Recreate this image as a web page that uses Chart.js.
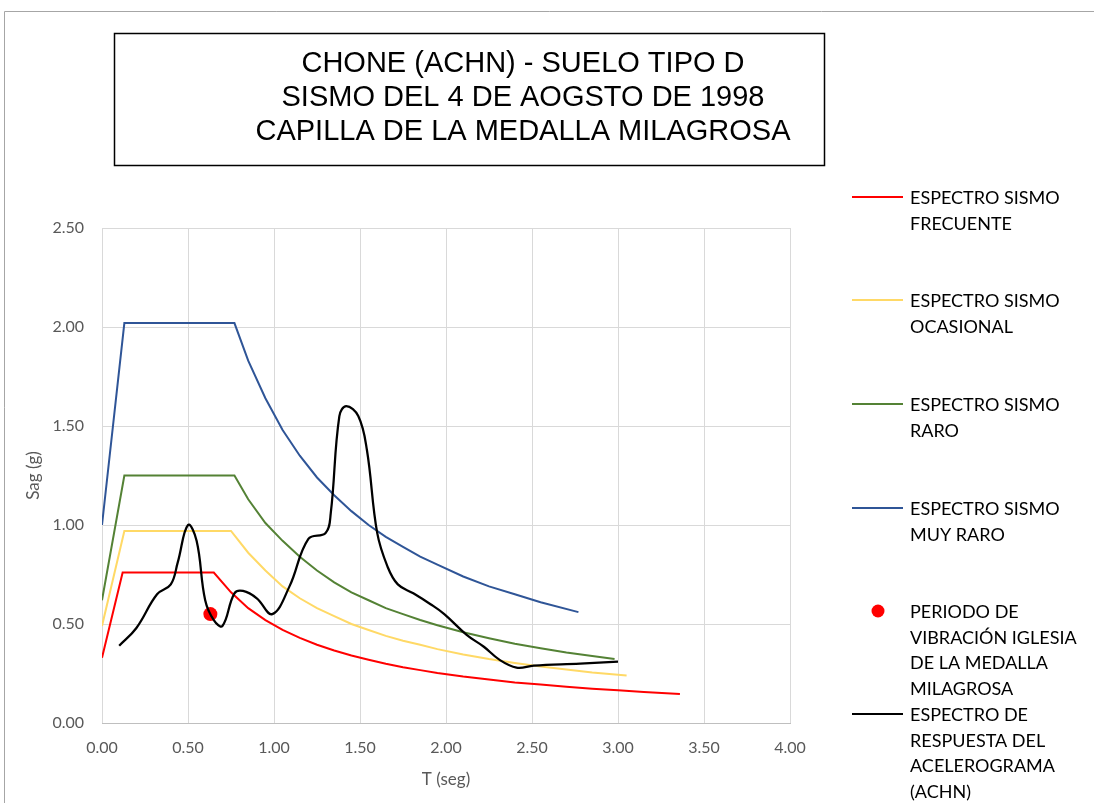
<!DOCTYPE html>
<html>
<head>
<meta charset="utf-8">
<script src="https://cdn.jsdelivr.net/npm/chart.js@4.4.1/dist/chart.umd.min.js"></script>
<style>
  html, body { margin: 0; padding: 0; background: #fff; }
  #wrap { width: 1094px; height: 803px; position: relative; }
</style>
</head>
<body>
<div id="wrap"><canvas id="espectro" width="1094" height="803"></canvas></div>
<script>
// titulo
var tituloLineas = ['CHONE (ACHN) - SUELO TIPO D', 'SISMO DEL 4 DE AOGSTO DE 1998', 'CAPILLA DE LA MEDALLA MILAGROSA'];

// ejes
var xTicks = [0, 0.5, 1, 1.5, 2, 2.5, 3, 3.5, 4];
var yTicks = [0, 0.5, 1, 1.5, 2, 2.5];

// espectro sismo frecuente
var tFrecuente = [0, 0.12, 0.65, 0.75, 0.85, 0.95, 1.05, 1.15, 1.25, 1.35, 1.45, 1.55, 1.65, 1.75, 1.85, 1.95, 2.1, 2.25, 2.4, 2.55, 2.7, 2.85, 3.0, 3.15, 3.36];
var saFrecuente = [0.33, 0.76, 0.76, 0.66, 0.58, 0.52, 0.47, 0.43, 0.395, 0.366, 0.341, 0.319, 0.299, 0.282, 0.267, 0.253, 0.235, 0.22, 0.205, 0.194, 0.183, 0.173, 0.165, 0.157, 0.147];

// espectro sismo ocasional
var tOcasional = [0, 0.13, 0.75, 0.85, 0.95, 1.05, 1.15, 1.25, 1.35, 1.45, 1.55, 1.65, 1.75, 1.85, 1.95, 2.1, 2.25, 2.4, 2.55, 2.7, 2.85, 3.05];
var saOcasional = [0.49, 0.97, 0.97, 0.86, 0.77, 0.69, 0.63, 0.58, 0.54, 0.50, 0.47, 0.44, 0.415, 0.395, 0.373, 0.346, 0.323, 0.303, 0.285, 0.27, 0.255, 0.24];

// espectro sismo raro
var tRaro = [0, 0.13, 0.77, 0.85, 0.95, 1.05, 1.15, 1.25, 1.35, 1.45, 1.55, 1.65, 1.75, 1.85, 1.95, 2.1, 2.25, 2.4, 2.55, 2.7, 2.85, 2.98];
var saRaro = [0.62, 1.25, 1.25, 1.13, 1.01, 0.92, 0.84, 0.77, 0.71, 0.66, 0.62, 0.58, 0.55, 0.52, 0.494, 0.458, 0.428, 0.40, 0.377, 0.356, 0.338, 0.323];

// espectro sismo muy raro
var tMuyRaro = [0, 0.13, 0.77, 0.85, 0.95, 1.05, 1.15, 1.25, 1.35, 1.45, 1.55, 1.65, 1.75, 1.85, 1.95, 2.1, 2.25, 2.4, 2.55, 2.77];
var saMuyRaro = [1.00, 2.02, 2.02, 1.83, 1.64, 1.48, 1.35, 1.24, 1.15, 1.07, 1.00, 0.94, 0.89, 0.84, 0.80, 0.74, 0.69, 0.65, 0.61, 0.56];

// periodo de vibracion de la iglesia
var tPeriodo = [0.63];
var saPeriodo = [0.55];

// espectro de respuesta del acelerograma (ACHN)
var tAcel = [0.10, 0.20, 0.32, 0.40, 0.44, 0.50, 0.55, 0.60, 0.65, 0.70, 0.77, 0.82, 0.90, 0.99, 1.09, 1.20, 1.30, 1.33, 1.38, 1.42, 1.49, 1.54, 1.60, 1.66, 1.72, 1.81, 1.91, 1.99, 2.12, 2.22, 2.31, 2.41, 2.51, 2.78, 3.00];
var saAcel = [0.39, 0.48, 0.65, 0.70, 0.81, 1.00, 0.92, 0.62, 0.52, 0.49, 0.655, 0.667, 0.63, 0.55, 0.69, 0.93, 0.96, 1.06, 1.55, 1.60, 1.55, 1.38, 0.96, 0.79, 0.70, 0.655, 0.60, 0.55, 0.445, 0.385, 0.32, 0.28, 0.29, 0.30, 0.31];

function puntos(xs, ys) {
    var out = [];
    for (var i = 0; i < xs.length; i++) out.push({ x: xs[i], y: ys[i] });
    return out;
}

var series = [
    { label: ['ESPECTRO SISMO', 'FRECUENTE'], t: tFrecuente, sa: saFrecuente, color: '#ff0000', tipo: 'linea', ly: 197 },
    { label: ['ESPECTRO SISMO', 'OCASIONAL'], t: tOcasional, sa: saOcasional, color: '#ffd966', tipo: 'linea', ly: 300 },
    { label: ['ESPECTRO SISMO', 'RARO'], t: tRaro, sa: saRaro, color: '#548235', tipo: 'linea', ly: 404 },
    { label: ['ESPECTRO SISMO', 'MUY RARO'], t: tMuyRaro, sa: saMuyRaro, color: '#2f5597', tipo: 'linea', ly: 508 },
    { label: ['PERIODO DE', 'VIBRACIÓN IGLESIA', 'DE LA MEDALLA', 'MILAGROSA'], t: tPeriodo, sa: saPeriodo, color: '#ff0000', tipo: 'punto', ly: 611 },
    { label: ['ESPECTRO DE', 'RESPUESTA DEL', 'ACELEROGRAMA', '(ACHN)'], t: tAcel, sa: saAcel, color: '#000000', tipo: 'suave', ly: 714 }
];

var datasets = series.map(function(s) {
    if (s.tipo === 'punto') {
        return { label: s.label.join(' '), data: puntos(s.t, s.sa), showLine: false,
            pointRadius: 7, pointBackgroundColor: s.color, pointBorderWidth: 0, order: 1 };
    }
    return { label: s.label.join(' '), data: puntos(s.t, s.sa), showLine: true,
        borderColor: s.color, borderWidth: s.tipo === 'suave' ? 2.25 : 2, pointRadius: 0,
        tension: s.tipo === 'suave' ? 0.4 : 0, fill: false, order: s.tipo === 'suave' ? 0 : 2 };
});

// marco, titulo y leyenda dibujados a mano
var decoracion = {
    id: 'decoracion',
    beforeDraw: function(chart) {
        var c = chart.ctx;
        c.save();
        c.fillStyle = '#fff';
        c.fillRect(0, 0, chart.width, chart.height);
        c.strokeStyle = '#a6a6a6';
        c.lineWidth = 1;
        c.beginPath();
        c.moveTo(4.5, chart.height);
        c.lineTo(4.5, 11.5);
        c.lineTo(chart.width, 11.5);
        c.stroke();
        c.restore();
    },
    afterDraw: function(chart) {
        var c = chart.ctx;
        c.save();
        // caja del titulo
        c.strokeStyle = '#000';
        c.lineWidth = 1.5;
        c.strokeRect(114.5, 33.5, 710, 132);
        c.fillStyle = '#000';
        c.font = '29px "Liberation Sans", Arial, sans-serif';
        c.textAlign = 'center';
        c.textBaseline = 'middle';
        tituloLineas.forEach(function(t, i) {
            c.fillText(t, 523, 64 + i * 34);
        });
        // leyenda
        c.font = '18px Lato, "Open Sans", sans-serif';
        c.textAlign = 'left';
        series.forEach(function(s) {
            if (s.tipo === 'punto') {
                c.fillStyle = s.color;
                c.beginPath();
                c.arc(878, s.ly, 6.5, 0, Math.PI * 2);
                c.fill();
            } else {
                c.strokeStyle = s.color;
                c.lineWidth = 2;
                c.beginPath();
                c.moveTo(852, s.ly);
                c.lineTo(903, s.ly);
                c.stroke();
            }
            c.fillStyle = '#000';
            s.label.forEach(function(l, i) {
                c.fillText(l, 910, s.ly + 1 + i * 25.7);
            });
        });
        c.restore();
    }
};

var ctx = document.getElementById('espectro').getContext('2d');
new Chart(ctx, {
    type: 'scatter',
    data: { datasets: datasets },
    plugins: [decoracion],
    options: {
        responsive: false,
        animation: false,
        layout: { padding: { left: 20, right: 304, top: 228, bottom: 10 } },
        plugins: { legend: { display: false }, tooltip: { enabled: false } },
        scales: {
            x: {
                type: 'linear', min: 0, max: 4,
                afterBuildTicks: function(ax) { ax.ticks = xTicks.map(function(v) { return { value: v }; }); },
                afterFit: function(ax) { ax.height = 70; },
                ticks: { color: '#595959', font: { family: 'Lato', size: 16 }, padding: 15,
                    callback: function(v) { return v.toFixed(2); } },
                grid: { color: '#d9d9d9', lineWidth: 1, drawTicks: false },
                border: { color: '#bfbfbf' },
                title: { display: true, text: 'T (seg)', color: '#595959', font: { family: 'Lato', size: 17 }, padding: { top: 8, bottom: 3 } }
            },
            y: {
                type: 'linear', min: 0, max: 2.5,
                afterBuildTicks: function(ax) { ax.ticks = yTicks.map(function(v) { return { value: v }; }); },
                afterFit: function(ax) { ax.width = 82; },
                ticks: { color: '#595959', font: { family: 'Lato', size: 16 }, padding: 18,
                    callback: function(v) { return v.toFixed(2); } },
                grid: { color: '#d9d9d9', lineWidth: 1, drawTicks: false },
                border: { display: false },
                title: { display: true, text: 'Sag (g)', color: '#595959', font: { family: 'Lato', size: 17 }, padding: { top: 3, bottom: 4 } }
            }
        }
    }
});
</script>
</body>
</html>
